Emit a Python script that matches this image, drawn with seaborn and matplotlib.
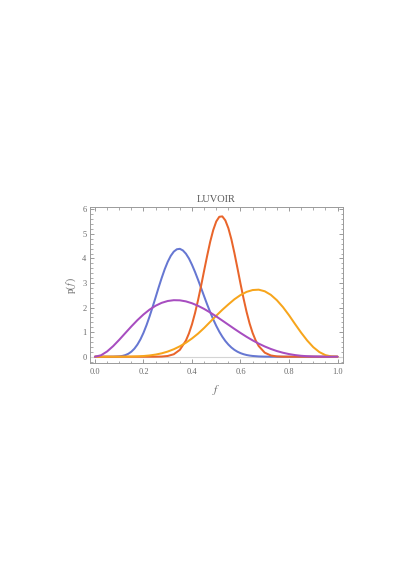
import numpy as np
import pandas as pd
import matplotlib
matplotlib.use("Agg")
import matplotlib.pyplot as plt
from matplotlib.ticker import MultipleLocator
import seaborn as sns

# ---- data ----
# common grid for the broad curves: f = 0, 0.025, ..., 1.0
f_grid = [round(0.025 * i, 4) for i in range(41)]

orange = [0, 0, 0, 0, 0.0006, 0.002, 0.006, 0.014, 0.028, 0.051,
          0.087, 0.138, 0.210, 0.305, 0.424, 0.570, 0.743, 0.941, 1.170, 1.420,
          1.670, 1.910, 2.130, 2.340, 2.510, 2.640, 2.715, 2.730, 2.665, 2.520,
          2.300, 2.020, 1.690, 1.330, 0.980, 0.660, 0.390, 0.190, 0.065, 0.010,
          0]

purple = [0, 0.059, 0.214, 0.432, 0.689, 0.962, 1.233, 1.490, 1.720, 1.918,
          2.076, 2.194, 2.269, 2.302, 2.296, 2.253, 2.177, 2.073, 1.946, 1.800,
          1.641, 1.473, 1.303, 1.133, 0.968, 0.811, 0.666, 0.534, 0.417, 0.316,
          0.231, 0.162, 0.108, 0.067, 0.038, 0.020, 0.009, 0.003, 0.0006, 0,
          0]

# narrow curves: read more densely around their peaks
blue_f = [0, 0.025, 0.05, 0.075, 0.1, 0.1125, 0.125, 0.1375, 0.15, 0.1625,
          0.175, 0.1875, 0.2, 0.2125, 0.225, 0.2375, 0.25, 0.2625, 0.275, 0.2875,
          0.3, 0.3125, 0.325, 0.3375, 0.35, 0.3625, 0.375, 0.3875, 0.4, 0.4125,
          0.425, 0.4375, 0.45, 0.4625, 0.475, 0.4875, 0.5, 0.5125, 0.525, 0.5375,
          0.55, 0.5625, 0.575, 0.5875, 0.6, 0.6125, 0.625, 0.6375, 0.65, 0.675,
          0.7, 0.725, 0.75, 0.775, 0.8, 0.85, 0.9, 0.95, 1.0]
blue = [0, 0, 0.0001, 0.0017, 0.014, 0.032, 0.065, 0.120, 0.205, 0.327,
        0.494, 0.708, 0.973, 1.285, 1.637, 2.020, 2.418, 2.821, 3.206, 3.561,
        3.865, 4.108, 4.280, 4.375, 4.393, 4.328, 4.195, 3.999, 3.743, 3.452,
        3.133, 2.801, 2.462, 2.130, 1.817, 1.523, 1.257, 1.021, 0.816, 0.640,
        0.495, 0.375, 0.279, 0.204, 0.146, 0.1025, 0.070, 0.047, 0.031, 0.012,
        0.004, 0.0014, 0.0004, 0.0001, 0, 0, 0, 0, 0]

red_f = [0, 0.05, 0.1, 0.15, 0.2, 0.225, 0.25, 0.275, 0.3, 0.325,
         0.35, 0.375, 0.3875, 0.4, 0.4125, 0.425, 0.4375, 0.45, 0.4625, 0.475,
         0.4875, 0.5, 0.5125, 0.525, 0.5375, 0.55, 0.5625, 0.575, 0.5875, 0.6,
         0.6125, 0.625, 0.6375, 0.65, 0.6625, 0.675, 0.7, 0.725, 0.75, 0.775,
         0.8, 0.85, 0.9, 0.95, 1.0]
red = [0, 0, 0, 0, 0, 0.0002, 0.0014, 0.0073, 0.030, 0.101,
       0.281, 0.658, 0.950, 1.322, 1.777, 2.305, 2.886, 3.504, 4.108, 4.679,
       5.155, 5.507, 5.697, 5.714, 5.551, 5.233, 4.778, 4.217, 3.604, 2.974,
       2.375, 1.828, 1.355, 0.968, 0.663, 0.436, 0.165, 0.051, 0.012, 0.002,
       0.0003, 0, 0, 0, 0]

series_names = ["blue", "red", "orange", "purple"]
series_colors = {"blue": "#6677D2", "red": "#E9652B", "orange": "#F7A51C", "purple": "#A74DC0"}

title_text = "LUVOIR"
x_label = r"$f$"
y_label = r"p($f\,$)"
x_ticks = [0.0, 0.2, 0.4, 0.6, 0.8, 1.0]
x_tick_labels = ["0.0", "0.2", "0.4", "0.6", "0.8", "1.0"]
y_ticks = [0, 1, 2, 3, 4, 5, 6]

# ---- build long-form table ----
frames = [
    pd.DataFrame({"f": blue_f, "p": blue, "series": "blue"}),
    pd.DataFrame({"f": red_f, "p": red, "series": "red"}),
    pd.DataFrame({"f": f_grid, "p": orange, "series": "orange"}),
    pd.DataFrame({"f": f_grid, "p": purple, "series": "purple"}),
]
df = pd.concat(frames, ignore_index=True)

sns.set_theme(style="ticks")
plt.rcParams["font.family"] = ["Liberation Serif", "DejaVu Serif"]
plt.rcParams["mathtext.fontset"] = "stix"

fig = plt.figure(figsize=(4.16, 5.88), dpi=100)
ax = fig.add_axes([0.2163, 0.3821, 0.6075, 0.2653])

ax.axhline(0, color="#d4d4d4", lw=0.8, zorder=1)
sns.lineplot(data=df, x="f", y="p", hue="series", palette=series_colors,
             hue_order=series_names, linewidth=1.45, legend=False, ax=ax,
             estimator=None, sort=False)
for ln in ax.get_lines():
    ln.set_solid_joinstyle("round")
    ln.set_solid_capstyle("round")

ax.set_xlim(-0.0206, 1.0214)
ax.set_ylim(-0.269, 6.083)

ax.set_xticks(x_ticks)
ax.set_xticklabels(x_tick_labels)
ax.set_yticks(y_ticks)
ax.xaxis.set_minor_locator(MultipleLocator(0.05))
ax.yaxis.set_minor_locator(MultipleLocator(0.2))

tick_col = "#8a8a8a"
ax.tick_params(axis="both", which="major", direction="in", length=3.2, width=0.6,
               color=tick_col, labelsize=6, labelcolor="#6a6a6a",
               top=True, right=True, pad=2.5)
ax.tick_params(axis="both", which="minor", direction="in", length=1.8, width=0.5,
               color=tick_col, top=True, right=True)
ax.tick_params(axis="x", which="major", pad=3.5)

for sp in ax.spines.values():
    sp.set_color("#9a9a9a")
    sp.set_linewidth(0.7)

ax.set_xlabel(x_label, fontsize=8, color="#6a6a6a", labelpad=5)
ax.set_ylabel(y_label, fontsize=7, color="#6a6a6a", labelpad=3)
ax.set_title(title_text, fontsize=7.5, color="#5a5a5a", pad=4)

fig.savefig("out.png", dpi=100)
